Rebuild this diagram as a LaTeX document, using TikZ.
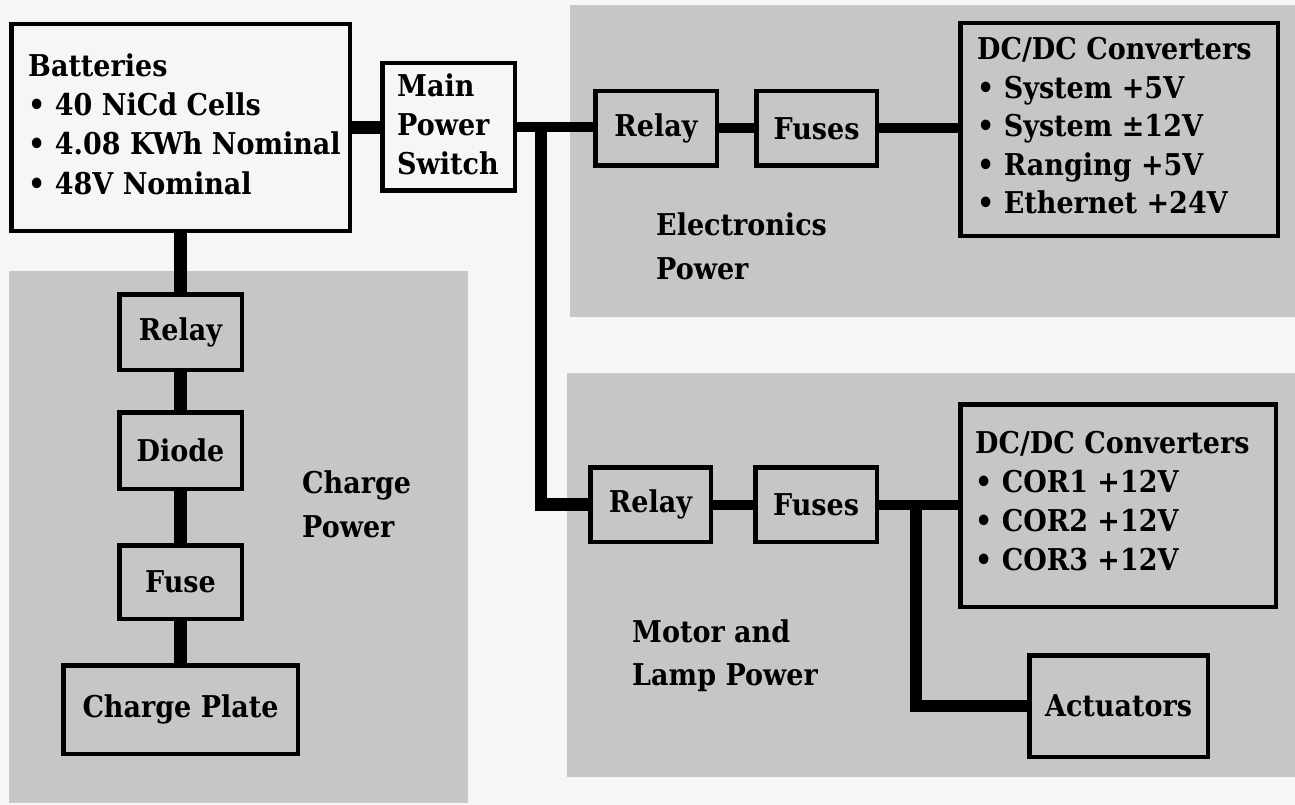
\documentclass[tikz,border=0pt]{standalone}
\usepackage{fontspec}
\setmainfont{DejaVu Serif}[BoldFont={DejaVu Serif Bold},BoldFeatures={FakeStretch=0.9}]
\definecolor{pagebg}{HTML}{F6F6F6}
\definecolor{regiongray}{HTML}{C6C6C6}
\newcommand\boxfont{\fontsize{30}{39}\selectfont\bfseries}
\begin{document}
\begin{tikzpicture}[x=1pt,y=-1pt,
  region/.style={fill=regiongray, draw=none},
  blk/.style={draw=black, line width=4.5pt, inner sep=0pt, font=\boxfont, align=center},
  txt/.style={inner sep=0pt, font=\boxfont, anchor=base west},
  wire/.style={draw=black, line width=10pt},
  heavywire/.style={draw=black, line width=12.5pt, line join=miter}
]
\fill[pagebg] (0,0) rectangle (1295,805);
\useasboundingbox (0,0) rectangle (1295,805);

% shaded regions
\fill[region] (570,5) rectangle (1295,317);
\fill[region] (9,271) rectangle (468,803);
\fill[region] (567,373) rectangle (1295,777);

% boxes
\node[blk, minimum width=338.5pt, minimum height=206.5pt] (bat) at (180.5,127.5) {};
\node[blk, minimum width=132.5pt, minimum height=127.5pt] (sw) at (448.5,127) {};
\node[blk, minimum width=121.5pt, minimum height=74.5pt] (erelay) at (656,128.5) {Relay};
\node[blk, minimum width=120.5pt, minimum height=74.5pt] (efuse) at (816.5,128.5) {Fuses};
\node[blk, minimum width=317.5pt, minimum height=212.5pt] (edc) at (1119,129.5) {};

\node[blk, minimum width=122.5pt, minimum height=75.5pt] (crelay) at (180.5,332) {Relay};
\node[blk, minimum width=122.5pt, minimum height=76.5pt] (diode) at (180.5,450.5) {Diode};
\node[blk, minimum width=122.5pt, minimum height=73.5pt] (cfuse) at (180.5,582) {Fuse};
\node[blk, minimum width=234.5pt, minimum height=88.5pt] (plate) at (180.5,709.5) {Charge Plate};

\node[blk, minimum width=120.5pt, minimum height=74.5pt] (mrelay) at (650.5,504.5) {Relay};
\node[blk, minimum width=121.5pt, minimum height=74.5pt] (mfuse) at (816,504.5) {Fuses};
\node[blk, minimum width=315.5pt, minimum height=202.5pt] (mdc) at (1118,505.5) {};
\node[blk, minimum width=178.5pt, minimum height=101.5pt] (act) at (1118.5,706) {Actuators};

% texts in boxes
\node[txt] (bt1) at (28,77) {Batteries};
\node[txt] (bt2) at (28,116) {• 40 NiCd Cells};
\node[txt] (bt3) at (28,155) {• 4.08 KWh Nominal};
\node[txt] (bt4) at (28,194) {• 48V Nominal};

\node[txt] (sw1) at (397,97) {Main};
\node[txt] (sw2) at (397,136) {Power};
\node[txt] (sw3) at (397,175) {Switch};

\node[txt] (ed1) at (977,60) {DC/DC Converters};
\node[txt] (ed2) at (977,98.5) {• System +5V};
\node[txt] (ed3) at (977,137) {• System ±12V};
\node[txt] (ed4) at (977,175.5) {• Ranging +5V};
\node[txt] (ed5) at (977,214) {• Ethernet +24V};

\node[txt] (md1) at (975,453) {DC/DC Converters};
\node[txt] (md2) at (975,492) {• COR1 +12V};
\node[txt] (md3) at (975,531) {• COR2 +12V};
\node[txt] (md4) at (975,570) {• COR3 +12V};

% region labels
\node[txt] (el1) at (656,235) {Electronics};
\node[txt] (el2) at (656,279) {Power};
\node[txt] (ch1) at (302,493) {Charge};
\node[txt] (ch2) at (302,537) {Power};
\node[txt] (mo1) at (632,642) {Motor and};
\node[txt] (mo2) at (632,685) {Lamp Power};

% connectors
\draw[heavywire] (bat.east) -- (bat.east -| sw.west);
\draw[wire] (sw.east) -- (sw.east -| erelay.west);
\draw[wire] (erelay.east) -- (efuse.west);
\draw[wire] (efuse.east) -- (efuse.east -| edc.west);
\coordinate (j1) at (541,127);
\draw[heavywire] (j1) |- (mrelay.west);
\draw[wire] (mrelay.east) -- (mfuse.west);
\draw[wire] (mfuse.east) -- (mfuse.east -| mdc.west);
\coordinate (j2) at (916,504.5);
\draw[heavywire] (j2) |- (act.west);

\draw[heavywire] (bat.south) -- (crelay.north);
\draw[heavywire] (crelay.south) -- (diode.north);
\draw[heavywire] (diode.south) -- (cfuse.north);
\draw[heavywire] (cfuse.south) -- (plate.north);
\end{tikzpicture}
\end{document}
